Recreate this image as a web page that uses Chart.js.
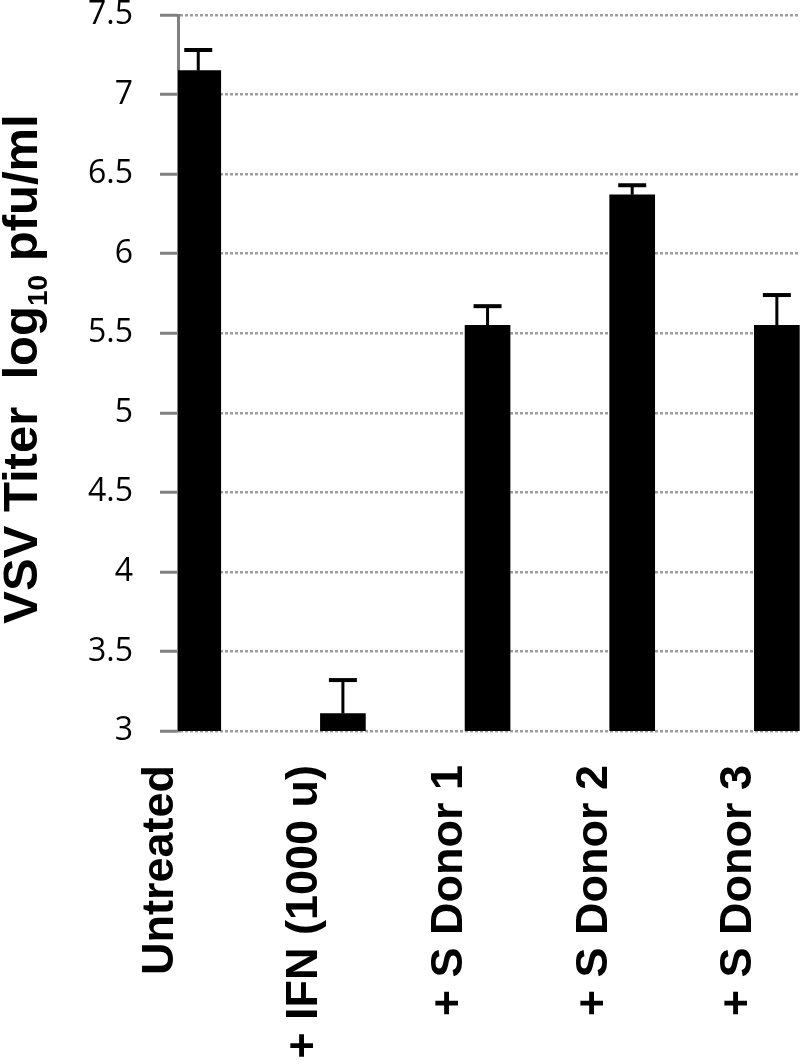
<!DOCTYPE html>
<html>
<head>
<meta charset="utf-8">
<script src="https://cdn.jsdelivr.net/npm/chart.js@4.4.0/dist/chart.umd.min.js"></script>
<style>
  html, body { margin: 0; padding: 0; background: #fff; }
  #wrap { width: 800px; height: 1064px; }
</style>
</head>
<body>
<div id="wrap"><canvas id="vsvTiter"></canvas></div>
<script>
// Valores
const grupos = ["Untreated", "+ IFN (1000 u)", "+ S Donor 1", "+ S Donor 2", "+ S Donor 3"];
const titulo = [7.15, 3.11, 5.55, 6.37, 5.55];
const errorSup = [0.13, 0.21, 0.12, 0.06, 0.19];
const ticksY = [3, 3.5, 4, 4.5, 5, 5.5, 6, 6.5, 7, 7.5];

const fuenteNegrita = '"Liberation Sans", Arial, sans-serif';

// Barras de error (solo hacia arriba)
const barrasError = {
    id: "barrasError",
    afterDatasetsDraw(chart) {
        const { ctx, scales: { y } } = chart;
        const meta = chart.getDatasetMeta(0);
        ctx.save();
        ctx.strokeStyle = "#000";
        meta.data.forEach((bar, i) => {
            const yTop = y.getPixelForValue(titulo[i] + errorSup[i]);
            ctx.lineWidth = 3;
            ctx.beginPath();
            ctx.moveTo(bar.x, bar.y);
            ctx.lineTo(bar.x, yTop);
            ctx.stroke();
            ctx.lineWidth = 4;
            ctx.beginPath();
            ctx.moveTo(bar.x - 14, yTop);
            ctx.lineTo(bar.x + 14, yTop);
            ctx.stroke();
        });
        ctx.restore();
    }
};

// Título del eje Y con subíndice
const tituloEje = {
    id: "tituloEje",
    afterDraw(chart) {
        const { ctx, chartArea } = chart;
        const partes = [
            ["VSV Titer  log", 49, 0],
            ["10", 28, 10],
            [" pfu/ml", 49, 0]
        ];
        ctx.save();
        ctx.fillStyle = "#000";
        ctx.textAlign = "left";
        ctx.textBaseline = "alphabetic";
        let total = 0;
        partes.forEach(p => {
            ctx.font = `bold ${p[1]}px ${fuenteNegrita}`;
            total += ctx.measureText(p[0]).width;
        });
        ctx.translate(37, (chartArea.top + chartArea.bottom) / 2 - 4);
        ctx.rotate(-Math.PI / 2);
        let x = -total / 2;
        partes.forEach(p => {
            ctx.font = `bold ${p[1]}px ${fuenteNegrita}`;
            ctx.fillText(p[0], x, p[2]);
            x += ctx.measureText(p[0]).width;
        });
        ctx.restore();
    }
};

new Chart(document.getElementById("vsvTiter"), {
    type: "bar",
    data: {
        datasets: [{
            data: titulo.map((v, i) => ({ x: i, y: v })),
            backgroundColor: "#000",
            borderWidth: 0,
            barThickness: 45
        }]
    },
    options: {
        responsive: true,
        maintainAspectRatio: false,
        animation: false,
        layout: { padding: 0 },
        plugins: {
            legend: { display: false },
            tooltip: { enabled: false }
        },
        scales: {
            x: {
                type: "linear",
                offset: false,
                min: -0.14,
                max: 4.16,
                grid: { display: false, drawTicks: false, offset: false },
                border: { display: false },
                afterBuildTicks: s => { s.ticks = grupos.map((_, i) => ({ value: i })); },
                afterFit: s => { s.height = 333; s.paddingLeft = 0; s.paddingRight = 0; },
                ticks: {
                    autoSkip: false,
                    minRotation: 90,
                    maxRotation: 90,
                    padding: 34,
                    labelOffset: -38,
                    color: "#000",
                    font: { family: fuenteNegrita, size: 45, weight: "bold" },
                    callback: v => grupos[v] ?? ""
                }
            },
            y: {
                min: 3,
                max: 7.5,
                afterBuildTicks: s => { s.ticks = ticksY.map(v => ({ value: v })); },
                afterFit: s => { s.width = 178; s.paddingTop = 15; s.paddingBottom = 0; },
                grid: {
                    color: "#9e9e9e",
                    lineWidth: 2.5,
                    tickLength: 18,
                    tickColor: "#808080",
                    tickWidth: 3,
                    tickBorderDash: []
                },
                border: { color: "#808080", width: 3, dash: [3, 2] },
                ticks: {
                    color: "#000",
                    padding: 27,
                    font: { family: '"Open Sans", sans-serif', size: 32 },
                    callback: v => String(v)
                }
            }
        }
    },
    plugins: [barrasError, tituloEje]
});
</script>
</body>
</html>
